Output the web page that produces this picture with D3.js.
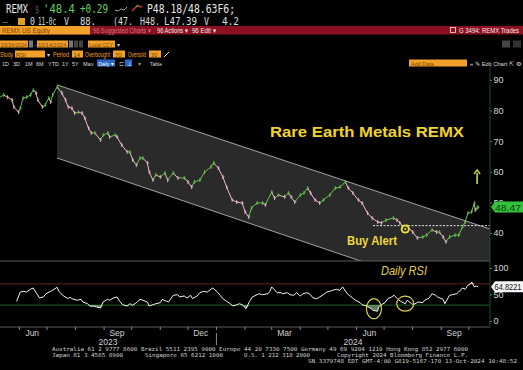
<!DOCTYPE html>
<html><head><meta charset="utf-8">
<script src="https://cdn.jsdelivr.net/npm/d3@7"></script>
<style>html,body{margin:0;background:#000;overflow:hidden}svg{display:block}</style>
</head><body><svg></svg>
<script>
var W = 523, H = 370

// REMX daily closes
var price = [
["2023-05-11",84.4],["2023-05-15",85.1],["2023-05-19",84.4],["2023-05-24",83.5],["2023-05-26",81.2],["2023-05-31",79.5],
["2023-06-02",80.8],["2023-06-05",84.1],["2023-06-09",84.4],["2023-06-13",85.1],["2023-06-16",86.7],["2023-06-19",85.8],
["2023-06-21",83.5],["2023-06-26",81.2],["2023-06-29",81.8],["2023-07-03",84.1],["2023-07-05",82.8],["2023-07-07",85.1],
["2023-07-12",87.7],["2023-07-17",85.8],["2023-07-21",83.5],["2023-07-24",81.2],["2023-07-28",80.8],["2023-07-31",79.2],
["2023-08-04",79.5],["2023-08-08",79.2],["2023-08-11",77.6],["2023-08-15",74.3],["2023-08-18",72.7],["2023-08-22",72.7],
["2023-08-28",70.4],["2023-08-31",72.0],["2023-09-05",72.7],["2023-09-07",71.4],["2023-09-13",72.0],["2023-09-15",71.4],
["2023-09-20",68.8],["2023-09-26",66.5],["2023-09-29",66.5],["2023-10-02",63.9],["2023-10-06",62.2],["2023-10-10",64.5],
["2023-10-13",64.5],["2023-10-18",62.9],["2023-10-20",59.9],["2023-10-24",57.3],["2023-10-27",59.0],["2023-11-01",58.3],
["2023-11-06",59.6],["2023-11-09",57.3],["2023-11-15",59.6],["2023-11-20",58.0],["2023-11-27",58.0],["2023-12-01",56.7],
["2023-12-05",55.0],["2023-12-08",56.7],["2023-12-14",57.3],["2023-12-19",59.9],["2023-12-26",61.6],["2023-12-29",62.9],
["2024-01-03",61.2],["2024-01-08",58.3],["2024-01-12",55.0],["2024-01-18",50.8],["2024-01-23",50.1],["2024-01-29",49.8],
["2024-02-01",46.9],["2024-02-05",45.2],["2024-02-08",48.2],["2024-02-14",49.8],["2024-02-20",49.8],["2024-02-23",49.2],
["2024-03-01",53.4],["2024-03-04",51.4],["2024-03-08",52.4],["2024-03-15",51.8],["2024-03-19",53.1],["2024-03-22",51.8],
["2024-03-26",50.1],["2024-04-01",52.4],["2024-04-05",53.1],["2024-04-09",54.7],["2024-04-12",53.1],["2024-04-17",50.8],
["2024-04-22",49.8],["2024-04-26",50.8],["2024-05-03",52.4],["2024-05-09",54.7],["2024-05-14",55.0],["2024-05-20",56.7],
["2024-05-23",54.7],["2024-05-28",53.1],["2024-06-03",50.8],["2024-06-07",49.8],["2024-06-13",46.5],["2024-06-18",44.9],
["2024-06-24",43.6],["2024-06-28",43.3],["2024-07-03",44.2],["2024-07-11",44.9],["2024-07-15",44.2],["2024-07-18",43.3],
["2024-07-22",42.0],["2024-07-26",42.3],["2024-08-01",40.3],["2024-08-06",38.4],["2024-08-12",38.7],["2024-08-16",39.3],
["2024-08-22",41.0],["2024-08-27",40.3],["2024-08-30",40.3],["2024-09-03",38.7],["2024-09-06",37.1],["2024-09-10",38.7],
["2024-09-16",39.3],["2024-09-20",39.3],["2024-09-24",42.0],["2024-09-27",43.6],["2024-09-30",46.5],["2024-10-04",46.9],
["2024-10-07",49.8],["2024-10-08",47.5],["2024-10-10",48.2],["2024-10-11",48.47]
]

// daily RSI(14)
var rsi = [
["2023-05-29",37.2],["2023-06-02",54.7],["2023-06-05",56.0],["2023-06-09",54.7],["2023-06-13",59.8],["2023-06-16",62.3],
["2023-06-20",51.5],["2023-06-23",43.4],["2023-06-27",45.3],["2023-06-30",51.5],["2023-07-05",56.0],["2023-07-07",57.9],
["2023-07-12",63.6],["2023-07-14",56.0],["2023-07-18",48.5],["2023-07-24",42.1],["2023-07-26",45.3],["2023-07-28",42.1],
["2023-08-03",39.1],["2023-08-07",40.9],["2023-08-09",35.9],["2023-08-14",32.6],["2023-08-17",27.7],["2023-08-21",28.3],
["2023-08-24",26.4],["2023-08-28",24.5],["2023-08-31",35.9],["2023-09-05",40.9],["2023-09-07",39.1],["2023-09-11",43.4],
["2023-09-15",45.3],["2023-09-18",37.2],["2023-09-21",30.8],["2023-09-26",28.3],["2023-09-29",32.6],["2023-10-02",29.6],
["2023-10-06",34.5],["2023-10-10",40.9],["2023-10-13",39.1],["2023-10-18",35.9],["2023-10-20",28.3],["2023-10-24",30.8],
["2023-10-27",32.6],["2023-11-01",34.5],["2023-11-03",40.9],["2023-11-08",37.2],["2023-11-10",35.9],["2023-11-15",48.5],
["2023-11-20",49.6],["2023-11-22",45.3],["2023-11-27",47.2],["2023-11-30",43.4],["2023-12-04",48.5],["2023-12-06",42.1],
["2023-12-11",47.2],["2023-12-14",53.4],["2023-12-18",56.0],["2023-12-22",54.7],["2023-12-26",59.8],["2023-12-28",62.3],
["2024-01-02",54.7],["2024-01-05",48.5],["2024-01-08",42.1],["2024-01-12",37.2],["2024-01-16",32.6],["2024-01-19",28.3],
["2024-01-23",30.8],["2024-01-26",32.6],["2024-01-30",29.6],["2024-02-02",23.2],["2024-02-06",37.2],["2024-02-09",45.3],
["2024-02-14",49.6],["2024-02-16",51.5],["2024-02-20",49.6],["2024-02-26",51.5],["2024-02-28",56.0],["2024-03-01",64.2],
["2024-03-07",53.4],["2024-03-11",53.4],["2024-03-13",51.5],["2024-03-18",53.4],["2024-03-21",49.6],["2024-03-25",48.5],
["2024-03-28",53.4],["2024-04-01",47.2],["2024-04-04",51.5],["2024-04-08",53.4],["2024-04-11",51.5],["2024-04-15",43.4],
["2024-04-19",42.1],["2024-04-22",45.3],["2024-04-26",49.6],["2024-04-30",54.7],["2024-05-03",56.0],["2024-05-06",57.9],
["2024-05-10",59.8],["2024-05-14",57.9],["2024-05-17",64.2],["2024-05-22",51.5],["2024-05-24",48.5],["2024-05-28",43.4],
["2024-05-31",39.1],["2024-06-05",34.5],["2024-06-07",30.8],["2024-06-12",28.3],["2024-06-17",23.2],["2024-06-19",20.2],
["2024-06-24",18.3],["2024-06-25",26.4],["2024-06-28",30.8],["2024-07-02",34.5],["2024-07-05",42.1],["2024-07-09",45.3],
["2024-07-12",48.5],["2024-07-16",40.9],["2024-07-19",37.2],["2024-07-24",32.6],["2024-07-26",39.1],["2024-07-31",32.6],
["2024-08-02",30.8],["2024-08-07",35.9],["2024-08-12",34.5],["2024-08-14",39.1],["2024-08-19",43.4],["2024-08-22",51.5],
["2024-08-26",48.5],["2024-08-28",45.3],["2024-09-03",40.9],["2024-09-05",32.6],["2024-09-06",35.9],["2024-09-10",48.5],
["2024-09-13",49.6],["2024-09-18",51.5],["2024-09-20",54.7],["2024-09-24",62.3],["2024-09-27",59.8],["2024-09-30",67.4],
["2024-10-03",70.4],["2024-10-04",73.6],["2024-10-07",64.2],["2024-10-09",66.0],["2024-10-11",64.8221]
]

// falling channel drawn on the chart: [start date, end date], upper and lower values
var channelDates = ["2023-07-12", "2024-10-24"]
var channelUpper = [88.4, 41.3]
var channelLower = [64.5, 16.5]
var breakoutLevel = 42.4, breakoutFrom = "2024-06-19"
var buyAlert = ["2024-07-24", 41.3]
var arrowAt = ["2024-10-10", 56.0, 60.6]
var rsiCircles = [["2024-06-20", 23.2, 7.5, 10], ["2024-07-24", 32.6, 8.5, 7.5]]

var priceTicks = [40, 50, 60, 70, 80, 90]
var rsiTicks = [0, 50, 100]
var monthLabels = [["2023-06-15","Jun"],["2023-09-15","Sep"],["2023-12-15","Dec"],["2024-03-15","Mar"],["2024-06-15","Jun"],["2024-09-15","Sep"]]
var yearLabels = [["2023", 108], ["2024", 353]]
var lastPrice = "48.47", lastRsi = "64.8221"

var parse = d3.timeParse("%Y-%m-%d")
price.forEach(d => d[0] = parse(d[0]))
rsi.forEach(d => d[0] = parse(d[0]))

var plotR = 490
var x = d3.scaleTime().domain([parse("2023-05-11"), parse("2024-10-24")]).range([0, plotR])
var y = d3.scaleLinear().domain([90, 40]).range([80, 233])
var yr = d3.scaleLinear().domain([0, 100]).range([321, 268])

var svg = d3.select("svg").attr("width", W).attr("height", H).attr("viewBox", [0, 0, W, H])
  .style("font-family", "'Liberation Sans', Arial, sans-serif")
svg.append("rect").attr("width", W).attr("height", H).attr("fill", "#000")

var orange = "#f2a02a"
var mono = "'DejaVu Sans Mono', 'Liberation Mono', monospace"
var narrow = "'Liberation Sans Narrow', 'Arial Narrow', 'Liberation Sans', sans-serif"

function txt(g, x0, y0, s, col, size, len, fam) {
  var t = g.append("text").attr("x", x0).attr("y", y0).text(s)
    .attr("fill", col).attr("font-size", size).attr("font-family", fam || narrow)
  if (len) t.attr("textLength", len).attr("lengthAdjust", "spacingAndGlyphs")
  return t
}
function box(g, x0, y0, w, h, col) {
  return g.append("rect").attr("x", x0).attr("y", y0).attr("width", w).attr("height", h).attr("fill", col)
}

// ---- header (terminal quote line + toolbars)
var hd = svg.append("g")
txt(hd, 6, 13, "REMX", "#e8e8e8", 12, 22, mono)
txt(hd, 35, 13, "$", "#555", 10, 4, mono)
txt(hd, 43, 13, "'48.4", "#5fd35f", 12, 32, mono)
txt(hd, 80, 13, "+0.29", "#5fd35f", 12, 28, mono)
hd.append("path").attr("d", "M115,10 l3,1 l3,-2 l3,1 l3,-3").attr("stroke", "#ccc").attr("fill", "none").attr("stroke-width", 0.8)
hd.append("path").attr("d", "M132,11 l4,-4 M138,6 l4,1").attr("stroke", "#d33").attr("fill", "none").attr("stroke-width", 1.4)
hd.append("path").attr("d", "M136,7 l2,-2").attr("stroke", "#3c3").attr("stroke-width", 1.4)
txt(hd, 147, 13, "P48.18/48.63F6;", "#e8e8e8", 12, 88, mono)

txt(hd, 2, 25, "—", "#888", 9, 6, mono)
box(hd, 18, 18, 7, 7, "#e0a020")
txt(hd, 30, 25, "0", "#ddd", 10, 5, mono)
txt(hd, 38, 25, "11-0c", "#ddd", 10, 18, mono)
txt(hd, 64, 25, "V", "#ddd", 10, 5, mono)
txt(hd, 80, 25, "88.", "#ddd", 10, 16, mono)
txt(hd, 113, 25, "(47.", "#ddd", 10, 20, mono)
txt(hd, 140, 25, "H48.", "#ddd", 10, 20, mono)
txt(hd, 164, 25, "L47.39", "#ddd", 10, 33, mono)
txt(hd, 204, 25, "V", "#ddd", 10, 5, mono)
txt(hd, 222, 25, "4.2", "#ddd", 10, 17, mono)

box(hd, 0, 26, W, 8.5, "#8c1022")
box(hd, 0, 26, 90, 8.5, orange)
txt(hd, 2, 33, "REMX US Equity", "#7a4200", 7, 48)
txt(hd, 93, 33, "96 Suggested Charts ▾", "#c9727e", 7, 58)
txt(hd, 157, 33, "96 Actions ▾", "#f2e6e6", 7, 31)
txt(hd, 192, 33, "96 Edit ▾", "#f2e6e6", 7, 24)
hd.append("rect").attr("x", 450.5).attr("y", 27.5).attr("width", 5).attr("height", 5)
  .attr("fill", "none").attr("stroke", "#f2e6e6").attr("stroke-width", 0.8)
txt(hd, 459, 33, "G 3494: REMX Trades", "#f2e6e6", 7, 60)

box(hd, 0, 40.5, 28, 7, orange); txt(hd, 1, 46.5, "03/24/2024", "#7a4200", 6, 26)
box(hd, 29, 40.5, 4, 7, "#777")
txt(hd, 34.5, 46.5, "-", "#ccc", 6)
box(hd, 37, 40.5, 31, 7, orange); txt(hd, 38, 46.5, "10/14/2024", "#7a4200", 6, 28)
box(hd, 69, 40.5, 4, 7, "#777"); box(hd, 74, 40.5, 4, 7, "#444"); box(hd, 79, 40.5, 4, 7, "#444")
box(hd, 88, 40.5, 27, 7, orange); txt(hd, 89, 46.5, "Local CCY", "#7a4200", 6, 24)
txt(hd, 117, 46.5, "▾", "#ccc", 6)
box(hd, 502, 40.5, 8, 7, "#444"); box(hd, 513, 40.5, 8, 7, "#333")

txt(hd, 0, 57, "Study", orange, 6.5, 13)
box(hd, 15, 50.5, 30, 7, orange); txt(hd, 16, 56.5, "RSI", "#7a4200", 6)
txt(hd, 47, 57, "▾", "#ccc", 6)
txt(hd, 53, 57, "Period", orange, 6.5, 16)
box(hd, 72, 50.5, 11, 7, orange); txt(hd, 73.5, 56.5, "14", "#7a4200", 6)
txt(hd, 85, 57, "Overbought", orange, 6.5, 25)
box(hd, 113, 50.5, 12, 7, orange); txt(hd, 115, 56.5, "70", "#7a4200", 6)
txt(hd, 128, 57, "Oversold", orange, 6.5, 18)
box(hd, 149, 50.5, 12, 7, orange); txt(hd, 151, 56.5, "30", "#7a4200", 6)
hd.append("path").attr("d", "M164,57 l5,-5").attr("stroke", "#ddd").attr("stroke-width", 1)

var periods = [["1D", 2], ["3D", 13], ["1M", 25], ["6M", 36], ["YTD", 48], ["1Y", 62], ["5Y", 72], ["Max", 83]]
periods.forEach(p => txt(hd, p[1], 65.5, p[0], "#ddd", 5.5))
box(hd, 97, 59.5, 18, 7, "#2a66c8"); txt(hd, 98.5, 65.5, "Daily ▾", "#fff", 5.5, 15)
txt(hd, 119, 65.5, "⊏", "#999", 5.5)
box(hd, 125, 59.5, 7, 7, "#2a66c8"); txt(hd, 126.5, 65.5, "⊥", "#fff", 5.5)
txt(hd, 138, 65.5, "▾", "#999", 5.5)
txt(hd, 150, 65.5, "Table", "#ddd", 5.5, 12)
box(hd, 409, 59.5, 58, 7, orange); txt(hd, 411, 65.5, "Add Data", "#7a4200", 5.5)
txt(hd, 470, 65.5, "«  ✎ Edit Chart  ⇱  ⚙", "#ddd", 5.5, 51)

// ---- price panel
svg.append("clipPath").attr("id", "pc").append("rect").attr("x", 0).attr("y", 68).attr("width", plotR).attr("height", 193)
var gp = svg.append("g").attr("clip-path", "url(#pc)")

var c0 = x(parse(channelDates[0])), c1 = x(parse(channelDates[1]))
gp.append("path")
  .attr("d", d3.line()([[c0, y(channelUpper[0])], [c1, y(channelUpper[1])], [c1, y(channelLower[1])], [c0, y(channelLower[0])]]) + "Z")
  .attr("fill", "#2a2a2a")
gp.append("line").attr("x1", c0).attr("y1", y(channelUpper[0])).attr("x2", c1).attr("y2", y(channelUpper[1]))
  .attr("stroke", "#c8c8c8").attr("stroke-width", 0.8)
gp.append("line").attr("x1", c0).attr("y1", y(channelLower[0])).attr("x2", c1).attr("y2", y(channelLower[1]))
  .attr("stroke", "#c8c8c8").attr("stroke-width", 0.8)

gp.append("line").attr("x1", x(parse(breakoutFrom))).attr("x2", plotR)
  .attr("y1", y(breakoutLevel)).attr("y2", y(breakoutLevel))
  .attr("stroke", "#e8e8e8").attr("stroke-width", 1).attr("stroke-dasharray", "2,1.5")

var up = "#67c24f", down = "#e9b9c6"
var segs = d3.pairs(price)
gp.selectAll("line.seg").data(segs).join("line").attr("class", "seg")
  .attr("x1", d => x(d[0][0])).attr("y1", d => y(d[0][1]))
  .attr("x2", d => x(d[1][0])).attr("y2", d => y(d[1][1]))
  .attr("stroke", d => d[1][1] >= d[0][1] ? up : down).attr("stroke-width", 1)
gp.selectAll("path.bar").data(segs).join("path").attr("class", "bar")
  .attr("d", d => {
    var xx = x(d[1][0]), yy = y(d[1][1])
    return "M" + xx + "," + (yy - 2) + "V" + (yy + 2) + "M" + xx + "," + yy + "h1.5"
  })
  .attr("stroke", d => d[1][1] >= d[0][1] ? up : down).attr("stroke-width", 0.9)

// buy alert marker
var bx = x(parse(buyAlert[0])), by = y(buyAlert[1])
gp.append("circle").attr("cx", bx).attr("cy", by).attr("r", 4.6).attr("fill", "#e8d838")
gp.append("circle").attr("cx", bx).attr("cy", by).attr("r", 2.6).attr("fill", "#2a2a10")
gp.append("circle").attr("cx", bx).attr("cy", by).attr("r", 1.1).attr("fill", "#e8d838")

svg.append("text").attr("x", 347).attr("y", 245).text("Buy Alert")
  .attr("fill", "#ecd83a").attr("font-size", 12).attr("font-weight", "bold")
  .attr("textLength", 50).attr("lengthAdjust", "spacingAndGlyphs")
svg.append("text").attr("x", 270).attr("y", 137).text("Rare Earth Metals REMX")
  .attr("fill", "#f0d232").attr("font-size", 15).attr("font-weight", "bold")
  .attr("textLength", 194).attr("lengthAdjust", "spacingAndGlyphs")

// up arrow
var ax = x(parse(arrowAt[0]))
svg.append("line").attr("x1", ax).attr("x2", ax).attr("y1", y(arrowAt[1])).attr("y2", y(arrowAt[2]) + 3)
  .attr("stroke", "#c8d44c").attr("stroke-width", 1.6)
svg.append("path").attr("d", "M" + (ax - 3) + "," + (y(arrowAt[2]) + 4) + "L" + ax + "," + y(arrowAt[2]) + "L" + (ax + 3) + "," + (y(arrowAt[2]) + 4))
  .attr("stroke", "#c8d44c").attr("stroke-width", 1.4).attr("fill", "none")

// ---- RSI panel
var gr = svg.append("g")
gr.append("line").attr("x1", 0).attr("x2", plotR).attr("y1", yr(70)).attr("y2", yr(70)).attr("stroke", "#6a1f22").attr("stroke-width", 1)
gr.append("line").attr("x1", 0).attr("x2", plotR).attr("y1", yr(30)).attr("y2", yr(30)).attr("stroke", "#1f5f22").attr("stroke-width", 1)
gr.append("path").datum(rsi)
  .attr("d", d3.area().x(d => x(d[0])).y0(yr(30)).y1(d => yr(Math.min(d[1], 30))))
  .attr("fill", "#6fa070").attr("opacity", 0.8)
gr.append("path").datum(rsi)
  .attr("d", d3.area().x(d => x(d[0])).y0(yr(70)).y1(d => yr(Math.max(d[1], 70))))
  .attr("fill", "#e6a0b0").attr("opacity", 0.8)
gr.append("path").datum(rsi)
  .attr("d", d3.line().x(d => x(d[0])).y(d => yr(d[1])))
  .attr("fill", "none").attr("stroke", "#f2f2f2").attr("stroke-width", 1)

gr.selectAll("ellipse").data(rsiCircles).join("ellipse")
  .attr("cx", d => x(parse(d[0]))).attr("cy", d => yr(d[1]))
  .attr("rx", d => d[2]).attr("ry", d => d[3])
  .attr("fill", "none").attr("stroke", "#d9cf45").attr("stroke-width", 1.2)

svg.append("text").attr("x", 381).attr("y", 275).text("Daily RSI")
  .attr("fill", "#e0d050").attr("font-size", 12).attr("font-style", "italic")
  .attr("textLength", 46).attr("lengthAdjust", "spacingAndGlyphs")

// panel frame lines
svg.append("line").attr("x1", 0).attr("x2", plotR).attr("y1", 261).attr("y2", 261).attr("stroke", "#5a5a5a").attr("stroke-width", 1.2)
svg.append("line").attr("x1", 0).attr("x2", plotR).attr("y1", 327).attr("y2", 327).attr("stroke", "#5a5a5a").attr("stroke-width", 1.2)

// ---- right axes
var axG = svg.append("g").attr("transform", "translate(" + plotR + ",0)")
axG.call(d3.axisRight(y).tickValues(priceTicks).tickSize(2).tickPadding(1.5))
axG.call(g => g.select(".domain").remove())
axG.append("line").attr("x1", 0).attr("x2", 0).attr("y1", 66).attr("y2", 327).attr("stroke", "#1f4f24").attr("stroke-width", 1)
var axR = svg.append("g").attr("transform", "translate(" + plotR + ",0)")
axR.call(d3.axisRight(yr).tickValues(rsiTicks).tickSize(2).tickPadding(1.5))
axR.call(g => g.select(".domain").remove())
svg.selectAll(".tick line").attr("stroke", "#3c9a44")
svg.selectAll(".tick text").attr("fill", "#d8d8d8").attr("font-size", 9)
  .attr("font-family", "'Liberation Sans', Arial, sans-serif")

// last value tags
var ly = y(+lastPrice)
svg.append("path").attr("d", "M" + (plotR + 1) + "," + ly + "L" + (plotR + 5) + "," + (ly - 5.5) + "H" + W + "V" + (ly + 5.5) + "H" + (plotR + 5) + "Z")
  .attr("fill", "#33c23a")
svg.append("text").attr("x", plotR + 5).attr("y", ly + 3.5).text(lastPrice)
  .attr("fill", "#0b3e10").attr("font-size", 9.5).attr("textLength", 26).attr("lengthAdjust", "spacingAndGlyphs")
var lr = yr(+lastRsi)
svg.append("path").attr("d", "M" + (plotR + 1) + "," + lr + "L" + (plotR + 5) + "," + (lr - 5.5) + "H" + W + "V" + (lr + 5.5) + "H" + (plotR + 5) + "Z")
  .attr("fill", "#f4f4f4")
svg.append("text").attr("x", plotR + 4.5).attr("y", lr + 3.5).text(lastRsi)
  .attr("fill", "#111").attr("font-size", 9).attr("textLength", 27).attr("lengthAdjust", "spacingAndGlyphs")

// ---- time axis
var months = d3.timeMonth.range(parse("2023-06-01"), parse("2024-10-02"))
svg.selectAll("line.mt").data(months).join("line").attr("class", "mt")
  .attr("x1", d => x(d)).attr("x2", d => x(d)).attr("y1", 327).attr("y2", 330)
  .attr("stroke", "#8a8a8a").attr("stroke-width", 1)
svg.selectAll("text.ml").data(monthLabels).join("text").attr("class", "ml")
  .attr("x", d => x(parse(d[0]))).attr("y", 335.5).attr("text-anchor", "middle")
  .text(d => d[1]).attr("fill", "#d0d0d0").attr("font-size", 8.5)
svg.append("line").attr("x1", x(parse("2024-01-01"))).attr("x2", x(parse("2024-01-01")))
  .attr("y1", 333).attr("y2", 345).attr("stroke", "#8a8a8a")
svg.selectAll("text.yl").data(yearLabels).join("text").attr("class", "yl")
  .attr("x", d => d[1]).attr("y", 345).attr("text-anchor", "middle")
  .text(d => d[0]).attr("fill", "#d0d0d0").attr("font-size", 8.5)

// ---- footer
var ft = svg.append("g")
txt(ft, 52, 350.5, "Australia 61 2 9777 8600 Brazil 5511 2395 9000 Europe 44 20 7330 7500 Germany 49 69 9204 1210 Hong Kong 852 2977 6000", "#d0d0d0", 5.5, 416, mono)
txt(ft, 52, 356.5, "Japan 81 3 4565 8900", "#d0d0d0", 5.5, 71, mono)
txt(ft, 145, 356.5, "Singapore 65 6212 1000", "#d0d0d0", 5.5, 78, mono)
txt(ft, 244, 356.5, "U.S. 1 212 318 2000", "#d0d0d0", 5.5, 66, mono)
txt(ft, 337, 356.5, "Copyright 2024 Bloomberg Finance L.P.", "#d0d0d0", 5.5, 131, mono)
txt(ft, 308, 363, "SN 3379748 EDT  GMT-4:00 G819-5167-170 13-Oct-2024 10:48:52", "#d0d0d0", 5.5, 209, mono)
</script></body></html>
